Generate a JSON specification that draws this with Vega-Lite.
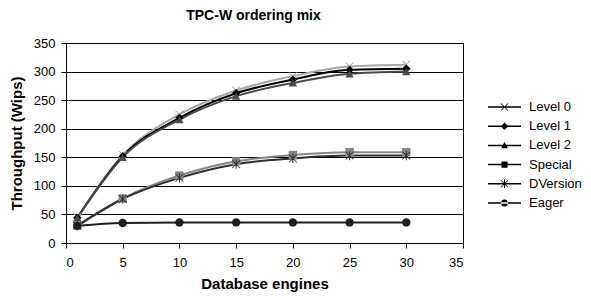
{
  "$schema": "https://vega.github.io/schema/vega-lite/v6.json",
  "autosize": {"type": "none"},
  "width": 397,
  "height": 200,
  "padding": {"left": 66, "top": 43, "right": 128, "bottom": 53},
  "background": "white",
  "config": {
    "font": "Liberation Sans",
    "view": {"stroke": "black", "strokeWidth": 1},
    "axis": {"labelFont": "Liberation Sans", "labelFontSize": 13, "labelColor": "black", "titleFont": "Liberation Sans", "titleFontSize": 15, "titleFontWeight": "bold", "titleColor": "black", "domainColor": "black", "tickColor": "black", "tickSize": 5, "labelPadding": 3},
    "legend": {"labelFont": "Liberation Sans", "labelFontSize": 13, "labelColor": "black"}
  },
  "title": {"text": "TPC-W ordering mix", "fontSize": 14, "fontWeight": "bold", "font": "Liberation Sans", "color": "black", "anchor": "middle", "dx": -11, "offset": 14},
  "data": {
    "values": [
      {"x": 1, "series": "Level 0", "y": 45}, {"x": 5, "series": "Level 0", "y": 154}, {"x": 10, "series": "Level 0", "y": 225}, {"x": 15, "series": "Level 0", "y": 267}, {"x": 20, "series": "Level 0", "y": 292}, {"x": 25, "series": "Level 0", "y": 309}, {"x": 30, "series": "Level 0", "y": 312},
      {"x": 1, "series": "Level 1", "y": 44}, {"x": 5, "series": "Level 1", "y": 152}, {"x": 10, "series": "Level 1", "y": 219}, {"x": 15, "series": "Level 1", "y": 262}, {"x": 20, "series": "Level 1", "y": 286}, {"x": 25, "series": "Level 1", "y": 303}, {"x": 30, "series": "Level 1", "y": 305},
      {"x": 1, "series": "Level 2", "y": 44}, {"x": 5, "series": "Level 2", "y": 150}, {"x": 10, "series": "Level 2", "y": 216}, {"x": 15, "series": "Level 2", "y": 257}, {"x": 20, "series": "Level 2", "y": 280}, {"x": 25, "series": "Level 2", "y": 296}, {"x": 30, "series": "Level 2", "y": 300},
      {"x": 1, "series": "Special", "y": 31}, {"x": 5, "series": "Special", "y": 78}, {"x": 10, "series": "Special", "y": 118}, {"x": 15, "series": "Special", "y": 143}, {"x": 20, "series": "Special", "y": 154}, {"x": 25, "series": "Special", "y": 159}, {"x": 30, "series": "Special", "y": 159},
      {"x": 1, "series": "DVersion", "y": 30}, {"x": 5, "series": "DVersion", "y": 77}, {"x": 10, "series": "DVersion", "y": 114}, {"x": 15, "series": "DVersion", "y": 138}, {"x": 20, "series": "DVersion", "y": 148}, {"x": 25, "series": "DVersion", "y": 153}, {"x": 30, "series": "DVersion", "y": 153},
      {"x": 1, "series": "Eager", "y": 30}, {"x": 5, "series": "Eager", "y": 35}, {"x": 10, "series": "Eager", "y": 36}, {"x": 15, "series": "Eager", "y": 36}, {"x": 20, "series": "Eager", "y": 36}, {"x": 25, "series": "Eager", "y": 36}, {"x": 30, "series": "Eager", "y": 36}
    ]
  },
  "encoding": {
    "x": {"field": "x", "type": "quantitative", "scale": {"domain": [0, 35], "nice": false, "zero": false}, "axis": {"values": [0, 5, 10, 15, 20, 25, 30, 35], "grid": false, "title": "Database engines", "titlePadding": 7, "labelPadding": 8}},
    "y": {"field": "y", "type": "quantitative", "scale": {"domain": [0, 350], "nice": false}, "axis": {"values": [0, 50, 100, 150, 200, 250, 300, 350], "grid": true, "gridColor": "black", "gridOpacity": 1, "gridWidth": 1, "title": "Throughput (Wips)", "titlePadding": 9, "labelPadding": 6}},
    "color": {"field": "series", "type": "nominal", "scale": {"domain": ["Level 0", "Level 1", "Level 2", "Special", "DVersion", "Eager"], "range": ["#a8a8a8", "#000000", "#4a4a4a", "#858585", "#2e2e2e", "#1e1e1e"]}, "legend": null}
  },
  "layer": [
    {"mark": {"type": "line", "interpolate": "monotone", "strokeWidth": 2}},
    {
      "mark": {"type": "point", "filled": true, "opacity": 1, "size": 70},
      "encoding": {
        "shape": {"field": "series", "type": "nominal", "legend": null, "scale": {"domain": ["Level 0", "Level 1", "Level 2", "Special", "DVersion", "Eager"], "range": ["M-1,-0.85L-0.85,-1L0,-0.15L0.85,-1L1,-0.85L0.15,0L1,0.85L0.85,1L0,0.15L-0.85,1L-1,0.85L-0.15,0Z", "diamond", "triangle-up", "square", "M-1,-0.85L-0.85,-1L0,-0.15L0.85,-1L1,-0.85L0.15,0L1,0.85L0.85,1L0,0.15L-0.85,1L-1,0.85L-0.15,0Z M-0.12,-1.1H0.12V1.1H-0.12Z", "circle"]}}
      }
    },
    {
      "transform": [{"filter": "datum.x > 1000"}],
      "mark": {"type": "point", "filled": true, "opacity": 1, "size": 361},
      "encoding": {
        "color": {"field": "series", "type": "nominal", "legend": {"title": null, "orient": "none", "legendX": 428, "legendY": 53.5, "symbolSize": 361, "rowPadding": 1.2, "labelOffset": 14, "padding": 0}},
        "shape": {"field": "series", "type": "nominal", "legend": {"title": null, "orient": "none", "legendX": 428, "legendY": 53.5, "symbolSize": 361, "rowPadding": 1.2, "labelOffset": 14, "padding": 0}, "scale": {"domain": ["Level 0", "Level 1", "Level 2", "Special", "DVersion", "Eager"], "range": [
          "M-1.74,-0.07H1.74V0.07H-1.74Z M-0.4,-0.34L-0.34,-0.4L0,-0.06L0.34,-0.4L0.4,-0.34L0.06,0L0.4,0.34L0.34,0.4L0,0.06L-0.34,0.4L-0.4,0.34L-0.06,0Z",
          "M-1.74,-0.08H1.74V0.08H-1.74Z M0,-0.4L0.4,0L0,0.4L-0.4,0Z",
          "M-1.74,-0.08H1.74V0.08H-1.74Z M0,-0.36L0.36,0.3H-0.36Z",
          "M-1.74,-0.08H1.74V0.08H-1.74Z M-0.32,-0.32H0.32V0.32H-0.32Z",
          "M-1.74,-0.08H1.74V0.08H-1.74Z M-0.4,-0.34L-0.34,-0.4L0,-0.06L0.34,-0.4L0.4,-0.34L0.06,0L0.4,0.34L0.34,0.4L0,0.06L-0.34,0.4L-0.4,0.34L-0.06,0Z M-0.05,-0.44H0.05V0.44H-0.05Z",
          "M-1.74,-0.08H1.74V0.08H-1.74Z M-0.37,0A0.37,0.37 0 1,0 0.37,0A0.37,0.37 0 1,0 -0.37,0Z"
        ]}}
      }
    }
  ],
  "resolve": {"scale": {"shape": "independent"}}
}
